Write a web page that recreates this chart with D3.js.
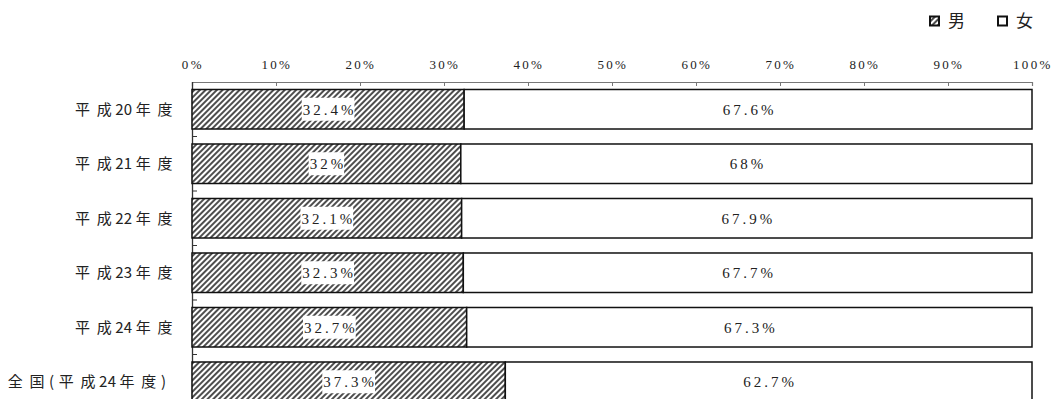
<!DOCTYPE html>
<html><head><meta charset="utf-8">
<script src="https://cdn.jsdelivr.net/npm/d3@7"></script>
<style>
body{margin:0;background:#fff;}
svg{display:block;}
.num{font-family:"Liberation Serif", serif;}
.cjk{font-family:"Noto Sans CJK JP", sans-serif;}
</style></head>
<body>
<svg id="chart" width="1052" height="399"></svg>
<script>
const categories = ["平成20年度","平成21年度","平成22年度","平成23年度","平成24年度","全国(平成24年度)"];
const maleValues = [32.4, 32, 32.1, 32.3, 32.7, 37.3];
const femaleValues = [67.6, 68, 67.9, 67.7, 67.3, 62.7];
const seriesNames = ["男","女"];
const tickValues = [0,10,20,30,40,50,60,70,80,90,100];

const svg = d3.select("#chart");

const defs = svg.append("defs");
const pat = defs.append("pattern").attr("id","hatch").attr("patternUnits","userSpaceOnUse")
  .attr("width",4).attr("height",4).attr("patternTransform","rotate(45)");
pat.append("rect").attr("width",4).attr("height",4).attr("fill","#fff");
pat.append("line").attr("x1",1).attr("y1",0).attr("x2",1).attr("y2",4)
  .attr("stroke","#3a3a3a").attr("stroke-width",1.8);

const x = d3.scaleLinear().domain([0,100]).range([192,1032]);
const y = d3.scaleBand().domain(categories).range([82,409]).paddingInner(0.275).paddingOuter(0.1375);

// top axis
const axis = d3.axisTop(x).tickValues(tickValues).tickFormat(d=>d+"%")
  .tickSizeInner(-4).tickSizeOuter(-4).tickPadding(13);
const gx = svg.append("g").attr("transform","translate(0,82)").call(axis);
gx.select(".domain").attr("stroke","#777").attr("stroke-width",1.2);
gx.selectAll(".tick line").attr("stroke","#777");
gx.selectAll(".tick text").attr("class","num").attr("font-family",null).attr("font-size",null)
  .style("font-size","13px").attr("fill","#222").style("letter-spacing","2.3px").attr("dx","0.3px");

// left axis
svg.append("line").attr("x1",192.5).attr("x2",192.5).attr("y1",82).attr("y2",409)
  .attr("stroke","#333").attr("stroke-width",1.3);
const step = y.step();
svg.append("g").selectAll("line").data(d3.range(1,categories.length)).join("line")
  .attr("x1",192).attr("x2",197)
  .attr("y1",i=>82+i*step).attr("y2",i=>82+i*step)
  .attr("stroke","#333").attr("stroke-width",1);

// category labels, laid out per character (narrow digits & brackets, wide kanji)
const isDigit = ch => /[0-9]/.test(ch);
const isParen = ch => /[()]/.test(ch);
function charAdv(ch){ return isDigit(ch) ? 8.6 : (isParen(ch) ? 7.5 : 21.8); }
const catG = svg.append("g");
categories.forEach(cat=>{
  const chars = Array.from(cat);
  let acc = 0; const centers = [];
  chars.forEach(ch=>{ const a = charAdv(ch); centers.push(acc + a/2); acc += a; });
  const last = chars[chars.length-1];
  const halfInk = isParen(last) ? 2.5 : (isDigit(last) ? 3.8 : 7.5);
  const lastRight = centers[centers.length-1] + halfInk;
  const rightTarget = isParen(last) ? 166 : 172.5;
  const shift = rightTarget - lastRight;
  const t = catG.append("text").attr("class","cjk").attr("y", y(cat)+y.bandwidth()/2)
    .attr("dy","0.35em").attr("text-anchor","middle").style("font-size","15px").attr("fill","#222");
  chars.forEach((ch,i)=>{
    t.append("tspan").attr("x", centers[i]+shift).text(ch);
  });
});

// bars
const rows = categories.map((c,i)=>({c, m:maleValues[i], f:femaleValues[i]}));
const g = svg.append("g");
g.selectAll("rect.m").data(rows).join("rect").attr("class","m")
  .attr("x",x(0)).attr("y",d=>y(d.c)).attr("width",d=>x(d.m)-x(0)).attr("height",y.bandwidth())
  .attr("fill","url(#hatch)").attr("stroke","#111").attr("stroke-width",1.5);
g.selectAll("rect.f").data(rows).join("rect").attr("class","f")
  .attr("x",d=>x(d.m)).attr("y",d=>y(d.c)).attr("width",d=>x(100)-x(d.m)).attr("height",y.bandwidth())
  .attr("fill","#fff").attr("stroke","#111").attr("stroke-width",1.5);

// value labels
const lab = svg.append("g");
rows.forEach(d=>{
  const cy = y(d.c)+y.bandwidth()/2;
  const cxm = (x(0)+x(d.m))/2;
  const t = lab.append("text").attr("class","num").attr("x",cxm+1.5).attr("y",cy).attr("dy","0.35em")
    .attr("text-anchor","middle").style("font-size","15px")
    .style("letter-spacing","3px").attr("fill","#222").text(d.m+"%");
  const bb = t.node().getBBox();
  lab.insert("rect","text").attr("x",bb.x-1).attr("y",cy-11.5).attr("width",bb.width-1).attr("height",23).attr("fill","#fff");
  lab.append("text").attr("class","num").attr("x",(x(d.m)+x(100))/2+1.5).attr("y",cy).attr("dy","0.35em")
    .attr("text-anchor","middle").style("font-size","15px")
    .style("letter-spacing","3px").attr("fill","#222").text(d.f+"%");
});

// legend
const leg = svg.append("g");
const legX = [929, 997];
seriesNames.forEach((n,i)=>{
  leg.append("rect").attr("x",legX[i]+1).attr("y",16.5).attr("width",9).attr("height",9)
    .attr("fill", i===0 ? "url(#hatch)" : "#fff").attr("stroke","#111").attr("stroke-width",2);
  leg.append("text").attr("class","cjk").attr("x",legX[i]+19).attr("y",21).attr("dy","0.35em")
    .style("font-size","17px").attr("fill","#222").text(n);
});
</script>
</body></html>
